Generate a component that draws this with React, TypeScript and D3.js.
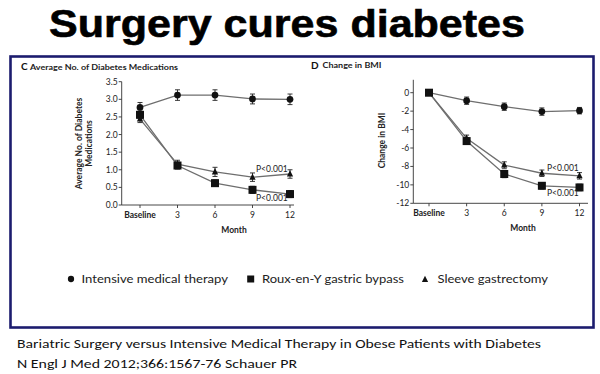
import React from "react";
import * as d3 from "d3";

const months = [0, 3, 6, 9, 12];
const monthLabels = ["Baseline", "3", "6", "9", "12"];

// Panel C: average number of diabetes medications
const medIntensive = [2.77, 3.12, 3.12, 3.01, 3.0];
const medIntensiveErr = [0.14, 0.15, 0.15, 0.14, 0.15];
const medBypass = [2.56, 1.12, 0.62, 0.43, 0.31];
const medBypassErr = [0.1, 0.1, 0.09, 0.1, 0.1];
const medSleeve = [2.44, 1.16, 0.94, 0.79, 0.88];
const medSleeveErr = [0.1, 0.11, 0.13, 0.12, 0.12];
const medTicks = [0, 0.5, 1, 1.5, 2, 2.5, 3, 3.5];

// Panel D: change in BMI
const bmiIntensive = [0, -0.87, -1.52, -2.05, -1.95];
const bmiIntensiveErr = [0.1, 0.4, 0.4, 0.4, 0.35];
const bmiBypass = [0, -5.25, -8.82, -10.1, -10.28];
const bmiBypassErr = [0.1, 0.35, 0.4, 0.35, 0.35];
const bmiSleeve = [0, -4.95, -7.85, -8.74, -9.02];
const bmiSleeveErr = [0.1, 0.35, 0.35, 0.35, 0.35];
const bmiTicks = [0, -2, -4, -6, -8, -10, -12];

const legendItems = ["Intensive medical therapy", "Roux-en-Y gastric bypass", "Sleeve gastrectomy"];

const FONT = "Lato, 'Open Sans', sans-serif";

type Series = { vals: number[]; err: number[]; shape: string };

function Marker({ shape, x, y, s }: { shape: string; x: number; y: number; s: number }) {
  if (shape === "circle") return <circle cx={x} cy={y} r={s * 0.45} fill="#111" />;
  if (shape === "square")
    return <rect x={x - s / 2} y={y - s / 2} width={s} height={s} fill="#111" />;
  const h = s * 0.9;
  return (
    <path
      d={`M${x},${y - h * 0.6}L${x + s * 0.45},${y + h * 0.4}L${x - s * 0.45},${y + h * 0.4}Z`}
      fill="#111"
    />
  );
}

function Panel({
  x0, x1, yTop, yBot, axisX, axisEnd, yDomain, yAxisTopVal, ticks, tickFmt, series, sizes,
}: any) {
  const x = d3.scaleLinear().domain([0, 12]).range([x0, x1]);
  const y = d3.scaleLinear().domain(yDomain).range([yBot, yTop]);
  const line = d3
    .line<number>()
    .x((_, i) => x(months[i]))
    .y((d) => y(d));
  const axisTop = y(yAxisTopVal);
  const axisBottom = y(yDomain[0]);
  return (
    <g fontFamily={FONT}>
      <line x1={axisX} x2={axisX} y1={axisTop} y2={axisBottom} stroke="#333" strokeWidth={0.9} />
      <line x1={axisX} x2={axisEnd} y1={axisBottom} y2={axisBottom} stroke="#333" strokeWidth={0.9} />
      {ticks.map((t: number) => (
        <g key={t}>
          <line x1={axisX - 3} x2={axisX} y1={y(t)} y2={y(t)} stroke="#333" strokeWidth={0.9} />
          <text x={axisX - 4} y={y(t) + 3} fontSize={8.5} textAnchor="end" fill="#222">
            {tickFmt(t)}
          </text>
        </g>
      ))}
      {months.map((m, i) => (
        <g key={m}>
          <line x1={x(m)} x2={x(m)} y1={axisBottom} y2={axisBottom + 3} stroke="#333" strokeWidth={0.9} />
          <text
            x={x(m)}
            y={axisBottom + 13}
            fontSize={8.5}
            textAnchor="middle"
            fontWeight={i === 0 ? 700 : 400}
            fill="#222"
          >
            {monthLabels[i]}
          </text>
        </g>
      ))}
      {series.map((s: Series, si: number) => (
        <g key={si}>
          <path d={line(s.vals) || ""} fill="none" stroke="#6e6e6e" strokeWidth={1.3} />
          {s.vals.map((v, i) => (
            <g key={i}>
              <line x1={x(months[i])} x2={x(months[i])} y1={y(v - s.err[i])} y2={y(v + s.err[i])} stroke="#222" strokeWidth={0.9} />
              <line x1={x(months[i]) - 2.5} x2={x(months[i]) + 2.5} y1={y(v - s.err[i])} y2={y(v - s.err[i])} stroke="#222" strokeWidth={0.9} />
              <line x1={x(months[i]) - 2.5} x2={x(months[i]) + 2.5} y1={y(v + s.err[i])} y2={y(v + s.err[i])} stroke="#222" strokeWidth={0.9} />
            </g>
          ))}
          {s.vals.map((v, i) => (
            <Marker key={"m" + i} shape={s.shape} x={x(months[i])} y={y(v)} s={sizes[s.shape]} />
          ))}
        </g>
      ))}
    </g>
  );
}

export default function App() {
  const sizes = { circle: 7.5, square: 8, triangle: 7 };
  return (
    <svg
      width={600}
      height={374}
      style={{ position: "absolute", left: 0, top: 0, background: "#fff" }}
    >
      <rect x={0} y={0} width={600} height={374} fill="#fff" />
      <text
        x={49}
        y={37}
        fontFamily="'Liberation Sans', Arial, sans-serif"
        fontWeight={700}
        fontSize={38}
        textLength={476}
        lengthAdjust="spacingAndGlyphs"
        fill="#000"
        stroke="#000"
        strokeWidth={0.6}
      >
        Surgery cures diabetes
      </text>
      <rect x={10.5} y={56.5} width={583} height={271} fill="none" stroke="#1c1c6e" strokeWidth={2.6} />

      {/* Panel C */}
      <text x={21} y={70} fontFamily={FONT} fontWeight={700} fontSize={10} fill="#111">C</text>
      <text x={30} y={69.5} fontFamily={FONT} fontWeight={700} fontSize={8.3} textLength={148} lengthAdjust="spacingAndGlyphs" fill="#222">
        Average No. of Diabetes Medications
      </text>
      <g transform="translate(82,143.5) rotate(-90)" fontFamily={FONT} fontWeight={700} fontSize={8.5} fill="#222">
        <text x={0} y={0} textAnchor="middle">Average No. of Diabetes</text>
        <text x={0} y={10} textAnchor="middle">Medications</text>
      </g>
      <Panel
        x0={140}
        x1={290}
        yTop={81.7}
        yBot={205}
        axisX={121.7}
        axisEnd={294}
        yDomain={[0, 3.5]}
        yAxisTopVal={3.5}
        ticks={medTicks}
        tickFmt={(t: number) => t.toFixed(1)}
        sizes={sizes}
        series={[
          { vals: medIntensive, err: medIntensiveErr, shape: "circle" },
          { vals: medSleeve, err: medSleeveErr, shape: "triangle" },
          { vals: medBypass, err: medBypassErr, shape: "square" },
        ]}
      />
      <text x={256} y={172} fontFamily={FONT} fontSize={8.5} fill="#222">P&lt;0.001</text>
      <text x={256} y={201} fontFamily={FONT} fontSize={8.5} fill="#222">P&lt;0.001</text>
      <text x={234} y={233} fontFamily={FONT} fontWeight={700} fontSize={8.5} textAnchor="middle" fill="#222">Month</text>

      {/* Panel D */}
      <text x={311} y={68.5} fontFamily={FONT} fontWeight={700} fontSize={10} fill="#111">D</text>
      <text x={322.5} y={68} fontFamily={FONT} fontWeight={700} fontSize={8.3} textLength={59} lengthAdjust="spacingAndGlyphs" fill="#222">
        Change in BMI
      </text>
      <text
        transform="translate(384.5,140.5) rotate(-90)"
        fontFamily={FONT}
        fontWeight={700}
        fontSize={8.5}
        textAnchor="middle"
        fill="#222"
      >
        Change in BMI
      </text>
      <Panel
        x0={429}
        x1={579.5}
        yTop={92.7}
        yBot={203.3}
        axisX={413.3}
        axisEnd={588}
        yDomain={[-12, 0]}
        yAxisTopVal={1.4}
        ticks={bmiTicks}
        tickFmt={(t: number) => (t < 0 ? "-" + Math.abs(t) : String(t))}
        sizes={sizes}
        series={[
          { vals: bmiIntensive, err: bmiIntensiveErr, shape: "circle" },
          { vals: bmiSleeve, err: bmiSleeveErr, shape: "triangle" },
          { vals: bmiBypass, err: bmiBypassErr, shape: "square" },
        ]}
      />
      <text x={547} y={170.5} fontFamily={FONT} fontSize={8.5} fill="#222">P&lt;0.001</text>
      <text x={547} y={196} fontFamily={FONT} fontSize={8.5} fill="#222">P&lt;0.001</text>
      <text x={523} y={231} fontFamily={FONT} fontWeight={700} fontSize={8.5} textAnchor="middle" fill="#222">Month</text>

      {/* Legend */}
      <g fontFamily={FONT} fontSize={12} fill="#222">
        <Marker shape="circle" x={71} y={279} s={7} />
        <text x={81.5} y={283} textLength={146.5} lengthAdjust="spacingAndGlyphs">{legendItems[0]}</text>
        <Marker shape="square" x={250.7} y={279} s={7} />
        <text x={262} y={283} textLength={142} lengthAdjust="spacingAndGlyphs">{legendItems[1]}</text>
        <Marker shape="triangle" x={425} y={279.5} s={7} />
        <text x={437.5} y={283} textLength={110.5} lengthAdjust="spacingAndGlyphs">{legendItems[2]}</text>
      </g>

      {/* Caption */}
      <g fontFamily="Carlito, Lato, 'Open Sans', sans-serif" fontSize={13} fill="#111">
        <text x={17} y={347.5} textLength={524} lengthAdjust="spacingAndGlyphs">
          Bariatric Surgery versus Intensive Medical Therapy in Obese Patients with Diabetes
        </text>
        <text x={17} y={367.5} textLength={280} lengthAdjust="spacingAndGlyphs">
          N Engl J Med 2012;366:1567-76 Schauer PR
        </text>
      </g>
    </svg>
  );
}
